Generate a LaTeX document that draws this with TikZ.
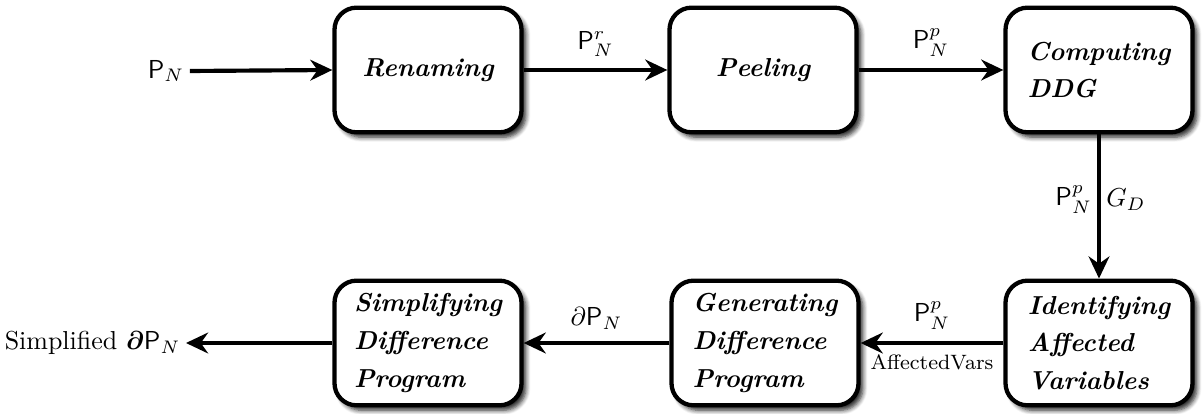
\documentclass[tikz,border=0pt]{standalone}
\usepackage{amsmath,amssymb}
\usetikzlibrary{arrows.meta,shadows.blur}
\begin{document}
\begin{tikzpicture}[x=0.385pt,y=-0.385pt,
  stagebox/.style={draw,line width=1.65pt,rounded corners=8.5pt,fill=white,
    minimum width=72pt,minimum height=48pt,align=left,
    font=\bfseries\itshape,
    blur shadow={shadow xshift=1.7pt,shadow yshift=-1.9pt,shadow blur steps=6,shadow opacity=85}},
  flow/.style={line width=1.6pt,-{Stealth[length=8.5pt,width=8pt,inset=2.8pt]}},
  lbl/.style={inner sep=2pt}]
\useasboundingbox (0,0) rectangle (1204,414);

% stages of the pipeline
\node[stagebox] (ren) at (428,70) {Renaming};
\node[stagebox] (peel) at (763,70) {Peeling};
\node[stagebox] (ddg) at (1099,70) {Computing\\[2.5pt]DDG};
\node[stagebox] (aff) at (1099,343) {Identifying\\[2.5pt]Affected\\[2.5pt]Variables};
\node[stagebox] (gen) at (765,343) {Generating\\[2.5pt]Difference\\[2.5pt]Program};
\node[stagebox] (simp) at (428,343) {Simplifying\\[2.5pt]Difference\\[2.5pt]Program};

% input and output terminals
\node[lbl] (in) at (166,71) {$\mathsf{P}_N$};
\node[lbl,anchor=east] (out) at (186,343) {Simplified $\boldsymbol{\partial}\mathsf{P}_N$};

% data flow between the stages
\draw[flow] (in.east) -- (ren.west);
\draw[flow] (ren.east) -- node[lbl,above=2.5pt] {$\mathsf{P}^r_N$} (peel.west);
\draw[flow] (peel.east) -- node[lbl,above=2.5pt] {$\mathsf{P}^p_N$} (ddg.west);
\draw[flow] (ddg.south) -- node[lbl,pos=0.45,left] {$\mathsf{P}^p_N$}
  node[lbl,pos=0.45,right] {$G_D$} (aff.north);
\draw[flow] (aff.west) -- node[lbl,above=2.5pt] {$\mathsf{P}^p_N$}
  node[lbl,below=1.5pt,font=\footnotesize] {AffectedVars} (gen.east);
\draw[flow] (gen.west) -- node[lbl,above=2.5pt] {$\partial\mathsf{P}_N$} (simp.east);
\draw[flow] (simp.west) -- (out.east);
\end{tikzpicture}
\end{document}
